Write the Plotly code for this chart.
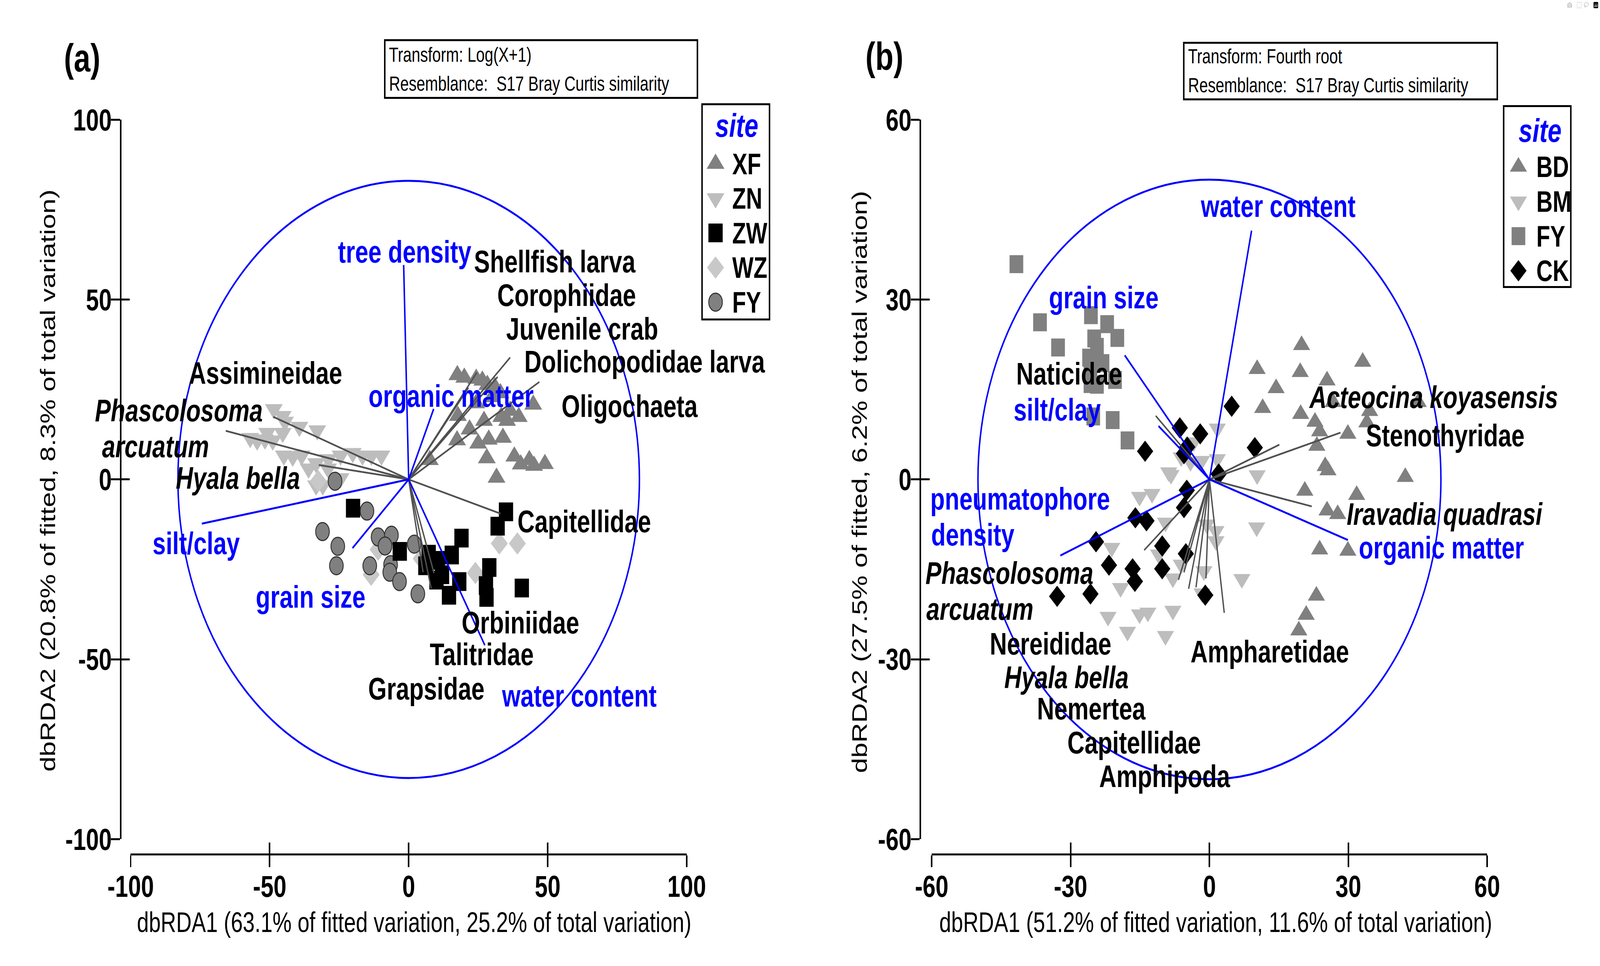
import plotly.graph_objects as go

FONT = "Liberation Sans, Arial, Helvetica, sans-serif"
W, H = 5380, 2472

# ---------------- Panel (a) data ----------------
ticks_a = [-100, -50, 0, 50, 100]
ticklab_a = ["-100", "-50", "0", "50", "100"]
circle_r_a = 83

xf_x = [17.5, 20.0, 24.3, 26.5, 28.3, 31.0, 33.0, 30.0, 24.3, 44.8, 39.6, 36.5, 33.3, 35.4, 17.7,
        27.1, 21.9, 17.4, 25.0, 28.8, 33.9, 28.1, 31.6, 38.0, 40.3, 43.4, 49.0, 45.1, 7.6]
xf_y = [29.0, 28.3, 28.0, 27.5, 26.3, 25.7, 24.0, 22.9, 21.2, 20.8, 17.4, 19.1, 17.4, 16.3, 17.7,
        16.3, 13.9, 10.9, 10.0, 11.1, 11.6, 5.9, 0.5, 6.4, 4.2, 5.4, 4.3, 3.8, 5.4]

zn_x = [-48.5, -45.3, -44.5, -39.3, -32.9, -54.5, -51.7, -48.9, -45.3, -50.9, -44.9, -41.7, -38.5,
        -33.3, -28.9, -24.5, -20.1, -16.6, -13.4, -9.8, -33.3, -30.9, -24.5, -57.0, -36.0, -29.0]
zn_y = [19.5, 17.6, 16.0, 14.6, 13.6, 10.8, 11.1, 10.8, 12.9, 12.9, 6.6, 6.3, 6.6,
        4.5, 5.6, 6.6, 7.3, 6.6, 6.6, 6.6, -1.7, -1.7, 0.3, 11.5, 3.0, 3.0]

zw_x = [-20.0, 35.0, 32.0, 19.0, -3.2, 7.2, 6.0, 10.5, 15.5, 12.0, 14.5, 18.2, 29.0, 28.0, 27.8, 40.7, 10.0]
zw_y = [-8.0, -9.0, -13.0, -16.3, -20.0, -20.8, -24.0, -22.5, -21.0, -26.5, -32.2, -28.4, -24.5, -32.8, -29.5, -30.2, -28.0]

wz_x = [32.6, 39.1, 24.0, 4.5, -13.5, -11.0, -32.5]
wz_y = [-17.8, -17.8, -26.0, -22.0, -26.5, -19.5, -0.5]

fya_x = [-26.5, -15.0, -31.0, -25.5, -26.0, -14.0, -11.0, -6.2, -8.5, 2.0, -6.5, -6.8, -3.3, 3.3]
fya_y = [-0.5, -8.8, -14.5, -18.6, -24.0, -24.0, -16.0, -15.5, -18.5, -18.0, -23.7, -25.8, -28.4, -31.8]

# species vectors (panel a)
spa_name = ["Shellfish larva", "Corophiidae", "Juvenile crab", "Dolichopodidae larva", "Oligochaeta",
            "Assimineidae", "Phascolosoma arcuatum", "Hyala bella", "Capitellidae",
            "Orbiniidae", "Talitridae", "Grapsidae"]
spa_x = [24.5, 21.5, 32.0, 36.5, 47.0, -48.7, -65.8, -32.3, 33.0, 8.1, 9.1, 5.2]
spa_y = [29.7, 25.5, 28.5, 33.9, 27.1, 17.4, 13.5, 4.0, -9.5, -30.3, -26.0, -25.8]

# environmental vectors (panel a)
enva_name = ["tree density", "organic matter", "silt/clay", "grain size", "water content"]
enva_x = [-1.8, 9.0, -74.4, -20.2, 27.4]
enva_y = [59.6, 19.6, -12.3, -19.1, -46.1]

# labels (panel a): text, centre x, centre y, kind (env / sp / spi)
laba_text = ["tree density", "Shellfish larva", "Corophiidae", "Juvenile crab", "Dolichopodidae larva",
             "Assimineidae", "organic matter", "Oligochaeta", "Phascolosoma", "arcuatum", "Hyala bella",
             "silt/clay", "Capitellidae", "grain size", "Orbiniidae", "Talitridae", "Grapsidae", "water content"]
laba_x = [-1.4, 52.6, 56.8, 62.4, 84.9, -51.5, 15.3, 79.5, -82.7, -91.0, -61.4,
          -76.4, 63.1, -35.3, 40.2, 26.3, 6.3, 61.3]
laba_y = [63.3, 60.5, 51.2, 41.9, 32.75, 29.6, 23.2, 20.4, 19.2, 9.2, 0.4,
          -17.8, -11.7, -32.7, -39.8, -48.6, -58.2, -60.1]
laba_kind = ["env", "sp", "sp", "sp", "sp", "sp", "env", "sp", "spi", "spi", "spi",
             "env", "sp", "env", "sp", "sp", "sp", "env"]

sites_a = ["XF", "ZN", "ZW", "WZ", "FY"]

# ---------------- Panel (b) data ----------------
ticks_b = [-60, -30, 0, 30, 60]
ticklab_b = ["-60", "-30", "0", "30", "60"]
circle_r_b = 50

bd_x = [19.9, 10.3, 19.6, 33.1, 25.4, 14.4, 11.5, 19.7, 26.7, 34.6, 45.1, 22.8, 23.8, 29.9,
        23.2, 25.0, 42.3, 20.6, 31.8, 25.4, 27.7, 23.8, 29.9, 23.1, 20.9, 19.3, 25.6, 34.0]
bd_y = [22.4, 18.4, 17.9, 19.6, 16.5, 15.2, 11.9, 10.9, 12.9, 11.4, 12.9, 9.6, 8.0, 7.6,
        5.6, 2.2, 0.4, -1.9, -2.6, -5.2, -5.8, -11.7, -11.9, -19.4, -22.6, -25.2, 1.5, 9.5]

bm_x = [1.7, -3.4, -6.1, -4.1, -1.7, 1.7, -8.8, -15.1, -12.4, -9.5, -0.6, 1.4, 1.4, -21.1, -11.0,
        -6.1, -7.9, -1.2, 7.0, -19.2, -1.6, -21.9, -15.1, -13.3, -7.9, -17.7, -9.5, 10.3, 10.2, -8.3]
bm_y = [8.5, 6.2, 3.7, 2.9, 3.1, 3.4, 1.2, -2.9, -2.4, -7.2, -7.5, -8.6, -10.3, -11.4, -12.5,
        -14.2, -16.5, -15.3, -16.6, -18.1, -19.0, -22.9, -22.5, -22.2, -21.9, -25.4, -26.1, 0.7, -8.0, 0.75]

fyb_x = [-41.7, -36.6, -25.6, -22.1, -19.9, -32.7, -24.9, -24.3, -26.0, -23.1, -25.7, -24.3,
         -20.4, -25.1, -20.9, -17.7, -25.7]
fyb_y = [35.9, 26.2, 27.4, 25.9, 23.6, 22.0, 23.5, 22.1, 20.3, 19.4, 15.9, 15.8,
         16.6, 10.5, 9.9, 6.5, 18.6]

ck_x = [4.8, -6.4, -2.0, -4.8, -5.5, -13.9, 2.0, -4.9, -5.5, -16.0, -13.6, -24.5, -10.2, -5.1,
        -21.7, -16.6, -10.2, -16.1, -25.7, -32.9, -0.9, 9.8]
ck_y = [12.2, 8.6, 7.6, 5.4, 4.3, 4.7, 0.9, -1.8, -4.7, -6.4, -6.9, -10.4, -11.1, -12.4,
        -14.3, -14.9, -14.9, -17.0, -19.1, -19.5, -19.3, 5.3]

spb_name = ["Acteocina koyasensis", "Stenothyridae", "Iravadia quadrasi", "Naticidae",
            "Phascolosoma arcuatum", "Nereididae", "Hyala bella", "Nemertea", "Capitellidae",
            "Amphipoda", "Ampharetidae"]
spb_x = [15.1, 28.3, 22.1, -11.6, -14.1, -6.7, -4.5, -2.9, -0.75, -5.5, 3.2]
spb_y = [5.8, 7.8, -4.5, 10.6, -11.8, -16.75, -18.25, -18.0, -16.5, -15.5, -22.25]

envb_name = ["water content", "grain size", "silt/clay", "pneumatophore density", "organic matter"]
envb_x = [9.1, -18.3, -11.0, -32.2, 29.9]
envb_y = [41.5, 20.7, 8.9, -12.7, -10.1]

labb_text = ["water content", "grain size", "Naticidae", "silt/clay", "Acteocina koyasensis",
             "Stenothyridae", "pneumatophore", "density", "Iravadia quadrasi", "organic matter",
             "Phascolosoma", "arcuatum", "Nereididae", "Ampharetidae", "Hyala bella", "Nemertea",
             "Capitellidae", "Amphipoda"]
labb_x = [14.8, -22.8, -30.3, -32.9, 48.4, 50.9, -40.9, -51.1, 50.8, 50.1,
          -43.2, -49.6, -34.3, 13.0, -30.9, -25.5, -16.3, -9.7]
labb_y = [45.6, 30.3, 17.6, 11.6, 13.7, 7.3, -3.25, -9.25, -5.75, -11.4,
          -15.6, -21.6, -27.4, -28.75, -33.0, -38.25, -43.9, -49.5]
labb_kind = ["env", "env", "sp", "env", "spi", "sp", "env", "env", "spi", "env",
             "spi", "spi", "sp", "sp", "spi", "sp", "sp", "sp"]

sites_b = ["BD", "BM", "FY", "CK"]

# ---------------- styles ----------------
BLUE = "#0000ff"
GREY_LINE = "#505050"
style = {
    "XF": dict(symbol="triangle-up", size=52, color="#808080", line=dict(width=0)),
    "ZN": dict(symbol="triangle-down", size=52, color="#bdbdbd", line=dict(width=0)),
    "ZW": dict(symbol="square", size=48, color="#000000", line=dict(width=0)),
    "WZ": dict(symbol="diamond", size=44, color="#c8c8c8", line=dict(width=0)),
    "FYa": dict(symbol="circle", size=46, color="#808080", line=dict(width=3, color="#333333")),
    "BD": dict(symbol="triangle-up", size=50, color="#808080", line=dict(width=0)),
    "BM": dict(symbol="triangle-down", size=50, color="#bdbdbd", line=dict(width=0)),
    "FYb": dict(symbol="square", size=46, color="#808080", line=dict(width=0)),
    "CK": dict(symbol="diamond", size=42, color="#000000", line=dict(width=0)),
}

fig = go.Figure()


def add_points(xs, ys, key, name, xa, ya):
    fig.add_trace(go.Scatter(x=xs, y=ys, mode="markers", name=name, marker=style[key],
                             xaxis=xa, yaxis=ya, showlegend=False, cliponaxis=False,
                             hoverinfo="skip"))


def add_vectors(xs, ys, color, width, xa, ya, name):
    vx, vy = [], []
    for ex, ey in zip(xs, ys):
        vx += [0, ex, None]
        vy += [0, ey, None]
    fig.add_trace(go.Scatter(x=vx, y=vy, mode="lines", line=dict(color=color, width=width),
                             xaxis=xa, yaxis=ya, showlegend=False, hoverinfo="skip", name=name))


# panel (a)
add_points(zn_x, zn_y, "ZN", "ZN", "x", "y")
add_points(wz_x, wz_y, "WZ", "WZ", "x", "y")
add_points(xf_x, xf_y, "XF", "XF", "x", "y")
add_points(fya_x, fya_y, "FYa", "FY", "x", "y")
add_points(zw_x, zw_y, "ZW", "ZW", "x", "y")
add_vectors(spa_x, spa_y, GREY_LINE, 4.5, "x", "y", "species (a)")
add_vectors(enva_x, enva_y, BLUE, 5, "x", "y", "environment (a)")

# panel (b)
add_points(bm_x, bm_y, "BM", "BM", "x2", "y2")
add_points(bd_x, bd_y, "BD", "BD", "x2", "y2")
add_points(fyb_x, fyb_y, "FYb", "FY", "x2", "y2")
add_points(ck_x, ck_y, "CK", "CK", "x2", "y2")
add_vectors(spb_x, spb_y, GREY_LINE, 4.5, "x2", "y2", "species (b)")
add_vectors(envb_x, envb_y, BLUE, 5, "x2", "y2", "environment (b)")

# empty traces to activate the tick-overlay axes (crossing ticks)
fig.add_trace(go.Scatter(x=[], y=[], xaxis="x3", yaxis="y3", showlegend=False))
fig.add_trace(go.Scatter(x=[], y=[], xaxis="x4", yaxis="y4", showlegend=False))

# legend symbols (built from the site lists, placed by index on hidden legend axes)
leg_keys_a = ["XF", "ZN", "ZW", "WZ", "FYa"]
for i, (s, k) in enumerate(zip(sites_a, leg_keys_a)):
    fig.add_trace(go.Scatter(x=[0.2], y=[i], mode="markers", marker=style[k], xaxis="x5", yaxis="y5",
                             showlegend=False, hoverinfo="skip", cliponaxis=False, name=s))
leg_keys_b = ["BD", "BM", "FYb", "CK"]
for i, (s, k) in enumerate(zip(sites_b, leg_keys_b)):
    fig.add_trace(go.Scatter(x=[0.22], y=[i], mode="markers", marker=style[k], xaxis="x6", yaxis="y6",
                             showlegend=False, hoverinfo="skip", cliponaxis=False, name=s))

# ---------------- axes ----------------
YDOM = [0.1177, 0.8900]
XDOM_A = [0.0690, 0.4260]
XDOM_B = [0.5833, 0.9400]
XPOS = 0.1015   # paper y of the x-axis lines
YPOS_A = 0.0625
YPOS_B = 0.5760

tickfont = dict(family=FONT, size=78, color="black", weight="bold")
base = dict(showgrid=False, zeroline=False, showline=True, linecolor="black", linewidth=5,
            ticks="outside", ticklen=30, tickwidth=5, tickcolor="black", tickfont=tickfont,
            tickmode="array", fixedrange=True)
inner = dict(showgrid=False, zeroline=False, showline=False, ticks="inside", ticklen=30,
             tickwidth=5, tickcolor="black", showticklabels=False, tickmode="array", fixedrange=True)

fig.update_layout(
    xaxis=dict(domain=XDOM_A, range=[-100, 100], anchor="free", position=XPOS,
               tickvals=ticks_a, ticktext=ticklab_a, ticklabelstandoff=-18, **base),
    yaxis=dict(domain=YDOM, range=[-100, 100], anchor="free", position=YPOS_A,
               tickvals=ticks_a, ticktext=ticklab_a, ticklabelstandoff=-18, **base),
    xaxis2=dict(domain=XDOM_B, range=[-60, 60], anchor="free", position=XPOS,
                tickvals=ticks_b, ticktext=ticklab_b, ticklabelstandoff=-18, **base),
    yaxis2=dict(domain=YDOM, range=[-60, 60], anchor="free", position=YPOS_B,
                tickvals=ticks_b, ticktext=ticklab_b, ticklabelstandoff=-18, **base),
    xaxis3=dict(overlaying="x", range=[-100, 100], anchor="free", position=XPOS,
                tickvals=ticks_a, **inner),
    yaxis3=dict(overlaying="y", range=[-100, 100], anchor="free", position=YPOS_A,
                tickvals=ticks_a, **inner),
    xaxis4=dict(overlaying="x2", range=[-60, 60], anchor="free", position=XPOS,
                tickvals=ticks_b, **inner),
    yaxis4=dict(overlaying="y2", range=[-60, 60], anchor="free", position=YPOS_B,
                tickvals=ticks_b, **inner),
    xaxis5=dict(domain=[2345 / W, 2578 / W], range=[0, 1], visible=False, anchor="y5", fixedrange=True),
    yaxis5=dict(domain=[1 - 802 / H, 1 - 231 / H], range=[4.5, -1.72], visible=False, anchor="x5",
                fixedrange=True),
    xaxis6=dict(domain=[5114 / W, 5346 / W], range=[0, 1], visible=False, anchor="y6", fixedrange=True),
    yaxis6=dict(domain=[1 - 716 / H, 1 - 236 / H], range=[3.47, -1.75], visible=False, anchor="x6",
                fixedrange=True),
)

# ---------------- shapes ----------------
shapes = [
    dict(type="circle", xref="x", yref="y", x0=-circle_r_a, x1=circle_r_a, y0=-circle_r_a, y1=circle_r_a,
         line=dict(color=BLUE, width=5), layer="below"),
    dict(type="circle", xref="x2", yref="y2", x0=-circle_r_b, x1=circle_r_b, y0=-circle_r_b, y1=circle_r_b,
         line=dict(color=BLUE, width=5), layer="below"),
    dict(type="rect", xref="paper", yref="paper", x0=1249 / W, x1=2329 / W, y0=1 - 214 / H, y1=1 - 61 / H,
         line=dict(color="black", width=5)),
    dict(type="rect", xref="paper", yref="paper", x0=4009 / W, x1=5092 / W, y0=1 - 218 / H, y1=1 - 68 / H,
         line=dict(color="black", width=5)),
    dict(type="rect", xref="paper", yref="paper", x0=2345 / W, x1=2578 / W, y0=1 - 802 / H, y1=1 - 231 / H,
         line=dict(color="black", width=5)),
    dict(type="rect", xref="paper", yref="paper", x0=5114 / W, x1=5346 / W, y0=1 - 716 / H, y1=1 - 236 / H,
         line=dict(color="black", width=5)),
]

# ---------------- annotations ----------------
ann = []
LAB = 80


def add_labels(texts, xs, ys, kinds, xr, yr):
    for t, x, y, k in zip(texts, xs, ys, kinds):
        col = BLUE if k == "env" else "black"
        txt = "<i>%s</i>" % t if k == "spi" else t
        ann.append(dict(text=txt, x=x, y=y, xref=xr, yref=yr, showarrow=False, xanchor="center",
                        yanchor="middle", font=dict(family=FONT, size=LAB, color=col, weight="bold")))


add_labels(laba_text, laba_x, laba_y, laba_kind, "x", "y")
add_labels(labb_text, labb_x, labb_y, labb_kind, "x2", "y2")


def paper_text(text, px, py, font, xanchor="center", angle=0):
    ann.append(dict(text=text, x=px / W, y=1 - py / H, xref="paper", yref="paper", showarrow=False,
                    xanchor=xanchor, yanchor="middle", textangle=angle, font=font))


letter_font = dict(family=FONT, size=100, color="black", weight="bold")
paper_text("(a)", 203, 108, letter_font)
paper_text("(b)", 2975, 104, letter_font)

info_font = dict(family=FONT, size=52, color="black")
paper_text("Transform: Log(X+1)", 1262, 100, info_font, "left")
paper_text("Resemblance:\u00a0 S17 Bray Curtis similarity", 1262, 176, info_font, "left")
paper_text("Transform: Fourth root", 4022, 104, info_font, "left")
paper_text("Resemblance:\u00a0 S17 Bray Curtis similarity", 4022, 180, info_font, "left")

title_font = dict(family=FONT, size=72, color="black")
paper_text("dbRDA1 (63.1% of fitted variation, 25.2% of total variation)", 1350, 2402, title_font)
paper_text("dbRDA1 (51.2% of fitted variation, 11.6% of total variation)", 4119, 2402, title_font)
ytitle_font = dict(family=FONT, size=70, color="black")
paper_text("dbRDA2 (20.8% of fitted, 8.3% of total variation)", 86, 1230, ytitle_font, angle=-90)
paper_text("dbRDA2 (27.5% of fitted, 6.2% of total variation)", 2889, 1233, ytitle_font, angle=-90)

leg_font = dict(family=FONT, size=76, color="black", weight="bold")
title_leg_font = dict(family=FONT, size=84, color=BLUE, weight="bold", style="italic")
ann.append(dict(text="site", x=0.515, y=-1.11, xref="x5", yref="y5", showarrow=False, xanchor="center",
                yanchor="middle", font=title_leg_font))
for i, s in enumerate(sites_a):
    ann.append(dict(text=s, x=0.44, y=i, xref="x5", yref="y5", showarrow=False, xanchor="left",
                    yanchor="middle", font=leg_font))
ann.append(dict(text="site", x=0.543, y=-1.05, xref="x6", yref="y6", showarrow=False, xanchor="center",
                yanchor="middle", font=title_leg_font))
for i, s in enumerate(sites_b):
    ann.append(dict(text=s, x=0.48, y=i, xref="x6", yref="y6", showarrow=False, xanchor="left",
                    yanchor="middle", font=leg_font))

fig.update_layout(
    width=W, height=H, autosize=False,
    margin=dict(l=0, r=0, t=0, b=0),
    paper_bgcolor="white", plot_bgcolor="white",
    showlegend=False,
    shapes=shapes, annotations=ann,
    font=dict(family=FONT),
)

# The browser may cap the window width (e.g. at 4096 px): map the 5380x2472 figure onto the
# actual viewport so that the photographed page covers exactly the same frame as the
# reference. No-op when the viewport really is 5380x2472.
fit_js = """
(function(){
  var gd = document.getElementById('{plot_id}');
  var wrap = gd.parentElement;
  var de = document.documentElement, b = document.body;
  de.style.margin = '0'; b.style.margin = '0';
  de.style.padding = '0'; b.style.padding = '0';
  de.style.overflow = 'hidden'; b.style.overflow = 'hidden';
  var iw = window.innerWidth, ih = window.innerHeight;
  var sx = iw / %d, sy = ih / %d;
  if (Math.abs(sx - 1) > 0.001 || Math.abs(sy - 1) > 0.001) {
    gd.style.transformOrigin = '0 0';
    gd.style.transform = 'scale(' + sx + ',' + sy + ')';
    wrap.style.width = iw + 'px';
    wrap.style.height = ih + 'px';
    wrap.style.overflow = 'hidden';
  }
})();
""" % (W, H)

fig.write_html("out.html", post_script=fit_js)
